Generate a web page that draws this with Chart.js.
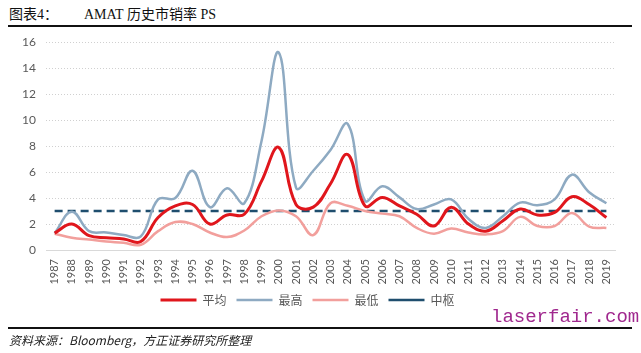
<!DOCTYPE html>
<html>
<head>
<meta charset="utf-8">
<script src="https://cdn.jsdelivr.net/npm/chart.js@4"></script>
<style>
  body { margin: 0; background: #fff; width: 641px; height: 353px; position: relative; overflow: hidden; }
  #title { position: absolute; left: 9px; top: 3px; font: 14px "Liberation Serif", "Noto Sans CJK SC", serif; color: #111; }
  #title .num { margin-right: 26px; }
  .rule { position: absolute; left: 8px; width: 624px; height: 2px; background: #111; }
  #wrap { position: absolute; left: 0; top: 25px; width: 641px; height: 291px; }
  #src { position: absolute; left: 9px; top: 331px; font: italic 12px "Noto Sans CJK SC", sans-serif; color: #222; }
  #wm { position: absolute; left: 491px; top: 306px; font: 19px "Liberation Mono", monospace; color: #a0288e; }
</style>
</head>
<body>
<div id="title"><span class="num">图表4：</span>AMAT 历史市销率 PS</div>
<div class="rule" style="top:25px"></div>
<div id="wrap"><canvas id="myChart"></canvas></div>
<div id="wm">laserfair.com</div>
<div class="rule" style="top:327px"></div>
<div id="src">资料来源：Bloomberg，方正证券研究所整理</div>
<script>
const years = ['1987','1988','1989','1990','1991','1992','1993','1994','1995','1996','1997',
  '1998','1999','2000','2001','2002','2003','2004','2005','2006','2007','2008',
  '2009','2010','2011','2012','2013','2014','2015','2016','2017','2018','2019'];

// 平均
const avgPS = [1.3, 2.0, 1.1, 0.95, 0.85, 0.65, 2.5, 3.4, 3.5, 2.0, 2.7,
  2.75, 5.3, 7.9, 3.5, 3.3, 5.1, 7.35, 3.4, 4.05, 3.4, 2.75,
  1.85, 3.3, 2.0, 1.45, 2.25, 3.15, 2.7, 2.9, 4.1, 3.5, 2.5];
// 最高
const highPS = [1.3, 2.95, 1.45, 1.35, 1.15, 1.05, 3.9, 4.0, 6.1, 3.3, 4.75,
  3.6, 8.4, 15.2, 4.8, 6.1, 7.7, 9.7, 3.8, 4.9, 4.05, 3.15,
  3.5, 3.9, 2.4, 1.7, 2.6, 3.65, 3.45, 3.9, 5.8, 4.45, 3.6];
// 最低
const lowPS = [1.25, 0.95, 0.8, 0.65, 0.55, 0.4, 1.45, 2.15, 2.0, 1.35, 1.0,
  1.5, 2.6, 3.05, 2.6, 1.15, 3.6, 3.4, 3.0, 2.8, 2.6, 1.7,
  1.25, 1.65, 1.35, 1.2, 1.45, 2.55, 1.85, 1.85, 2.85, 1.8, 1.7];
// 中枢
const midPS = [3, 3, 3, 3, 3, 3, 3, 3, 3, 3, 3,
  3, 3, 3, 3, 3, 3, 3, 3, 3, 3, 3,
  3, 3, 3, 3, 3, 3, 3, 3, 3, 3, 3];

const yTicks = [0, 2, 4, 6, 8, 10, 12, 14, 16];

const ctx = document.getElementById('myChart').getContext('2d');
const myChart = new Chart(ctx, {
  type: 'line',
  data: {
    labels: years,
    datasets: [
      { label: '平均', data: avgPS, borderColor: '#e0161c', backgroundColor: '#e0161c', borderWidth: 3 },
      { label: '最高', data: highPS, borderColor: '#8eaac2', backgroundColor: '#8eaac2', borderWidth: 2.5 },
      { label: '最低', data: lowPS, borderColor: '#f29f9c', backgroundColor: '#f29f9c', borderWidth: 2.5 },
      { label: '中枢', data: midPS, borderColor: '#1f4e6e', backgroundColor: '#1f4e6e', borderWidth: 2.5, borderDash: [8, 5], tension: 0 }
    ]
  },
  options: {
    responsive: true,
    maintainAspectRatio: false,
    animation: false,
    events: [],
    elements: {
      line: { tension: 0.4 },
      point: { radius: 0 }
    },
    layout: { padding: { top: 7, right: 26, left: 0, bottom: 0 } },
    plugins: {
      tooltip: { enabled: false },
      legend: {
        position: 'bottom',
        labels: {
          usePointStyle: true,
          pointStyle: 'line',
          pointStyleWidth: 36,
          padding: 10,
          color: '#595959',
          font: { family: '"Noto Sans CJK SC"', size: 12 }
        }
      }
    },
    scales: {
      x: {
        offset: true,
        grid: { display: false, drawTicks: false },
        border: { color: '#d9d9d9' },
        ticks: {
          padding: 9,
          minRotation: 90,
          maxRotation: 90,
          autoSkip: false,
          color: '#595959',
          font: { family: 'Lato', size: 11 }
        },
        afterFit: (scale) => { scale.height = 34; }
      },
      y: {
        min: 0,
        max: 16,
        afterBuildTicks: (scale) => { scale.ticks = yTicks.map(v => ({ value: v })); },
        grid: { color: '#d0d0d0', drawTicks: false },
        border: { display: false, dash: [1, 2] },
        ticks: {
          padding: 10,
          color: '#595959',
          font: { family: 'Lato', size: 12 }
        },
        afterFit: (scale) => { scale.width = 46; }
      }
    }
  }
});
</script>
</body>
</html>
